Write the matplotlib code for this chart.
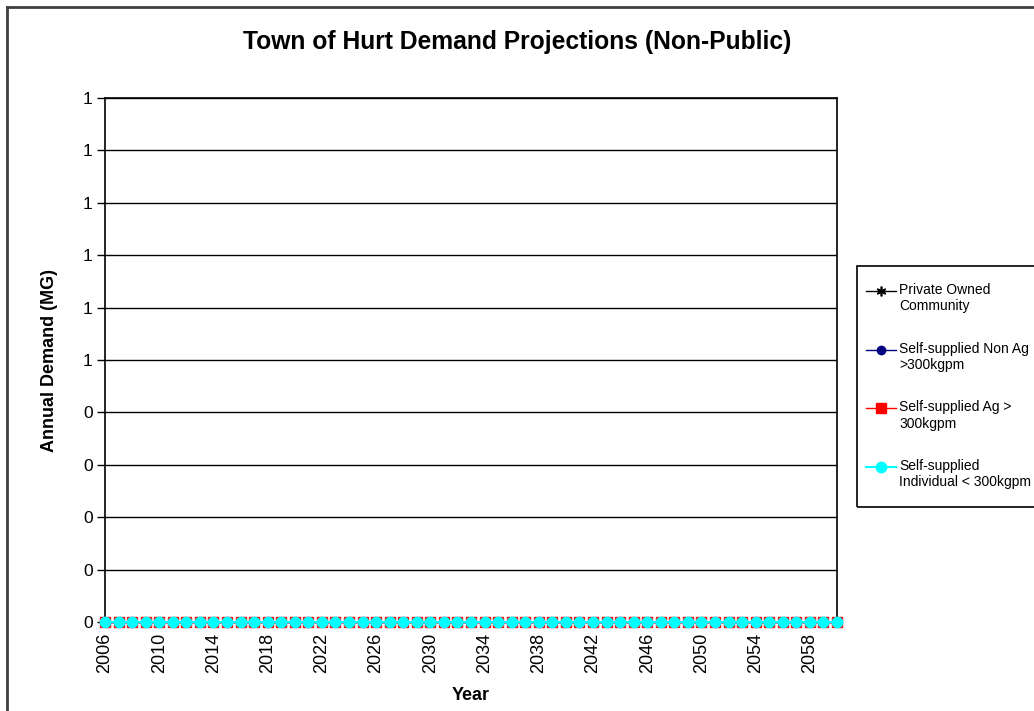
import math
import matplotlib
matplotlib.use("Agg")
import matplotlib.pyplot as plt
import numpy as np
from matplotlib.lines import Line2D
from matplotlib.patches import Rectangle
from matplotlib.legend_handler import HandlerLine2D
from matplotlib.ticker import FuncFormatter, MultipleLocator

# Datos (todas las series en cero)
years = list(range(2006, 2061))
private_owned = [0] * len(years)
self_non_ag = [0] * len(years)
self_ag = [0] * len(years)
self_individual = [0] * len(years)

series_names = [
    "Private Owned\nCommunity",
    "Self-supplied Non Ag\n>300kgpm",
    "Self-supplied Ag >\n300kgpm",
    "Self-supplied\nIndividual < 300kgpm",
]
tick_years = list(range(2006, 2060, 4))


class FirstLineHandler(HandlerLine2D):
    """Coloca el simbolo de la leyenda a la altura de la primera linea del texto."""

    def create_artists(self, legend, orig_handle, xdescent, ydescent,
                       width, height, fontsize, trans):
        artists = super().create_artists(legend, orig_handle, xdescent, ydescent,
                                         width, height, fontsize, trans)
        for a in artists:
            a.set_ydata(np.asarray(a.get_ydata(), dtype=float) + 0.55 * fontsize)
        return artists


plt.rcParams["font.family"] = ["Liberation Sans", "DejaVu Sans"]

fig = plt.figure(figsize=(10.34, 7.11), dpi=100)
ax = fig.add_axes([105 / 1034, 1 - 622 / 711, (837 - 105) / 1034, (622 - 98) / 711])

ax.plot(years, private_owned, color="black", lw=1, marker=(6, 2, 0), ms=7,
        mew=1.2, label=series_names[0], clip_on=False, zorder=3)
ax.plot(years, self_non_ag, color="#000080", lw=1, marker="o", ms=6,
        label=series_names[1], clip_on=False, zorder=4)
ax.plot(years, self_ag, color="red", lw=1, marker="s", ms=7,
        label=series_names[2], clip_on=False, zorder=5)
ax.plot(years, self_individual, color="cyan", lw=1.5, marker="o", ms=7.5,
        label=series_names[3], clip_on=False, zorder=6)

ax.set_xlim(2006, 2060)
ax.set_ylim(0, 1)
ax.yaxis.set_major_locator(MultipleLocator(0.1))
ax.yaxis.set_major_formatter(FuncFormatter(lambda v, p: str(int(math.floor(v + 0.5 + 1e-9)))))
ax.set_xticks(tick_years)
ax.set_xticklabels([str(y) for y in tick_years], rotation=90)
ax.tick_params(axis="x", length=0, pad=8, labelsize=13)
ax.tick_params(axis="y", length=6, width=1, direction="out", pad=3, labelsize=12.5)
ax.grid(axis="y", color="black", lw=1)
ax.set_axisbelow(True)
for s in ax.spines.values():
    s.set_color("black")
    s.set_linewidth(1.2)

fig.text(0.5, 1 - 42 / 711, "Town of Hurt Demand Projections (Non-Public)",
         fontsize=17.7, fontweight="bold", ha="center", va="center")
ax.set_xlabel("Year", fontsize=13, fontweight="bold", labelpad=10)
ax.set_ylabel("Annual Demand (MG)", fontsize=13, fontweight="bold", labelpad=18)

leg = fig.legend(loc="upper left", bbox_to_anchor=(857 / 1034, 1 - 274 / 711),
                 frameon=False, fontsize=10, labelspacing=2.05,
                 handlelength=2.16, handletextpad=0.22, borderpad=0.65,
                 borderaxespad=0, handler_map={Line2D: FirstLineHandler()})

# Marco de la leyenda (se sale por la derecha como en el original)
fig.add_artist(Rectangle((857 / 1034, 1 - 507 / 711), 0.3, (507 - 266) / 711,
                         transform=fig.transFigure, fill=False,
                         edgecolor="black", lw=1.2))

# Borde del area del grafico (estilo Excel)
fig.add_artist(Line2D([7 / 1034, 7 / 1034], [0, 1 - 7 / 711], color="#404040", lw=2))
fig.add_artist(Line2D([7 / 1034, 1], [1 - 7 / 711, 1 - 7 / 711], color="#404040", lw=2))

fig.savefig("out.png", dpi=100)
